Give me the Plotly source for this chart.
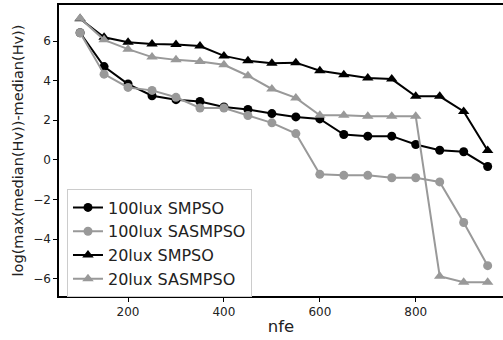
import plotly.graph_objects as go

nfe = [100, 150, 200, 250, 300, 350, 400, 450, 500, 550, 600, 650, 700, 750, 800, 850, 900, 950]
smpso_100 = [6.42, 4.71, 3.83, 3.24, 3.04, 2.95, 2.67, 2.55, 2.34, 2.17, 2.07, 1.28, 1.2, 1.2, 0.78, 0.49, 0.41, -0.33]
sasmpso_100 = [6.42, 4.33, 3.66, 3.51, 3.16, 2.62, 2.62, 2.24, 1.87, 1.33, -0.73, -0.78, -0.78, -0.9, -0.9, -1.11, -3.16, -5.34]
smpso_20 = [7.13, 6.19, 5.94, 5.85, 5.83, 5.75, 5.25, 5.0, 4.88, 4.91, 4.5, 4.3, 4.13, 4.08, 3.21, 3.21, 2.45, 0.48]
sasmpso_20 = [7.15, 6.06, 5.59, 5.19, 5.05, 4.97, 4.8, 4.25, 3.58, 3.13, 2.25, 2.25, 2.2, 2.2, 2.2, -5.87, -6.17, -6.17]

series = [
    ("100lux SMPSO", smpso_100, "black", "circle"),
    ("100lux SASMPSO", sasmpso_100, "#999999", "circle"),
    ("20lux SMPSO", smpso_20, "black", "triangle-up"),
    ("20lux SASMPSO", sasmpso_20, "#999999", "triangle-up"),
]

fig = go.Figure()
for i, (name, vals, col, sym) in enumerate(series):
    fig.add_trace(go.Scatter(
        x=nfe, y=vals, name=name, mode="lines+markers",
        line=dict(color=col, width=2),
        marker=dict(color=col, symbol=sym, size=9 if sym == "circle" else 10),
    ))

font = "DejaVu Sans"
fig.update_layout(
    width=503, height=340,
    margin=dict(l=58.5, r=0, t=5, b=44),
    plot_bgcolor="white", paper_bgcolor="white",
    font=dict(family=font, color="#222222"),
    showlegend=True,
    legend=dict(
        x=0.018, y=0.366, xanchor="left", yanchor="top",
        bgcolor="rgba(255,255,255,0.85)", bordercolor="#cccccc", borderwidth=1,
        font=dict(family=font, size=16, color="#222222"),
        tracegroupgap=0, itemwidth=30,
    ),
    xaxis=dict(
        range=[56, 982], showgrid=False, zeroline=False,
        showline=True, linecolor="black", linewidth=1.5, mirror=True,
        ticks="outside", ticklen=4, tickwidth=1, tickcolor="black",
        tickvals=[200, 400, 600, 800],
        tickfont=dict(family=font, size=12),
        title=dict(text="nfe", font=dict(family=font, size=16.5), standoff=2),
    ),
    yaxis=dict(
        range=[-6.87, 7.82], showgrid=False, zeroline=False,
        showline=True, linecolor="black", linewidth=1.5,
        ticks="outside", ticklen=4, tickwidth=1, tickcolor="black",
        tickvals=[-6, -4, -2, 0, 2, 4, 6],
        ticktext=["\u22126", "\u22124", "\u22122", "0", "2", "4", "6"],
        tickfont=dict(family=font, size=12),
        title=dict(text="log(max(median(Hv))-median(Hv))", font=dict(family=font, size=14.5), standoff=6),
    ),
)

fig.write_html("out.html")
